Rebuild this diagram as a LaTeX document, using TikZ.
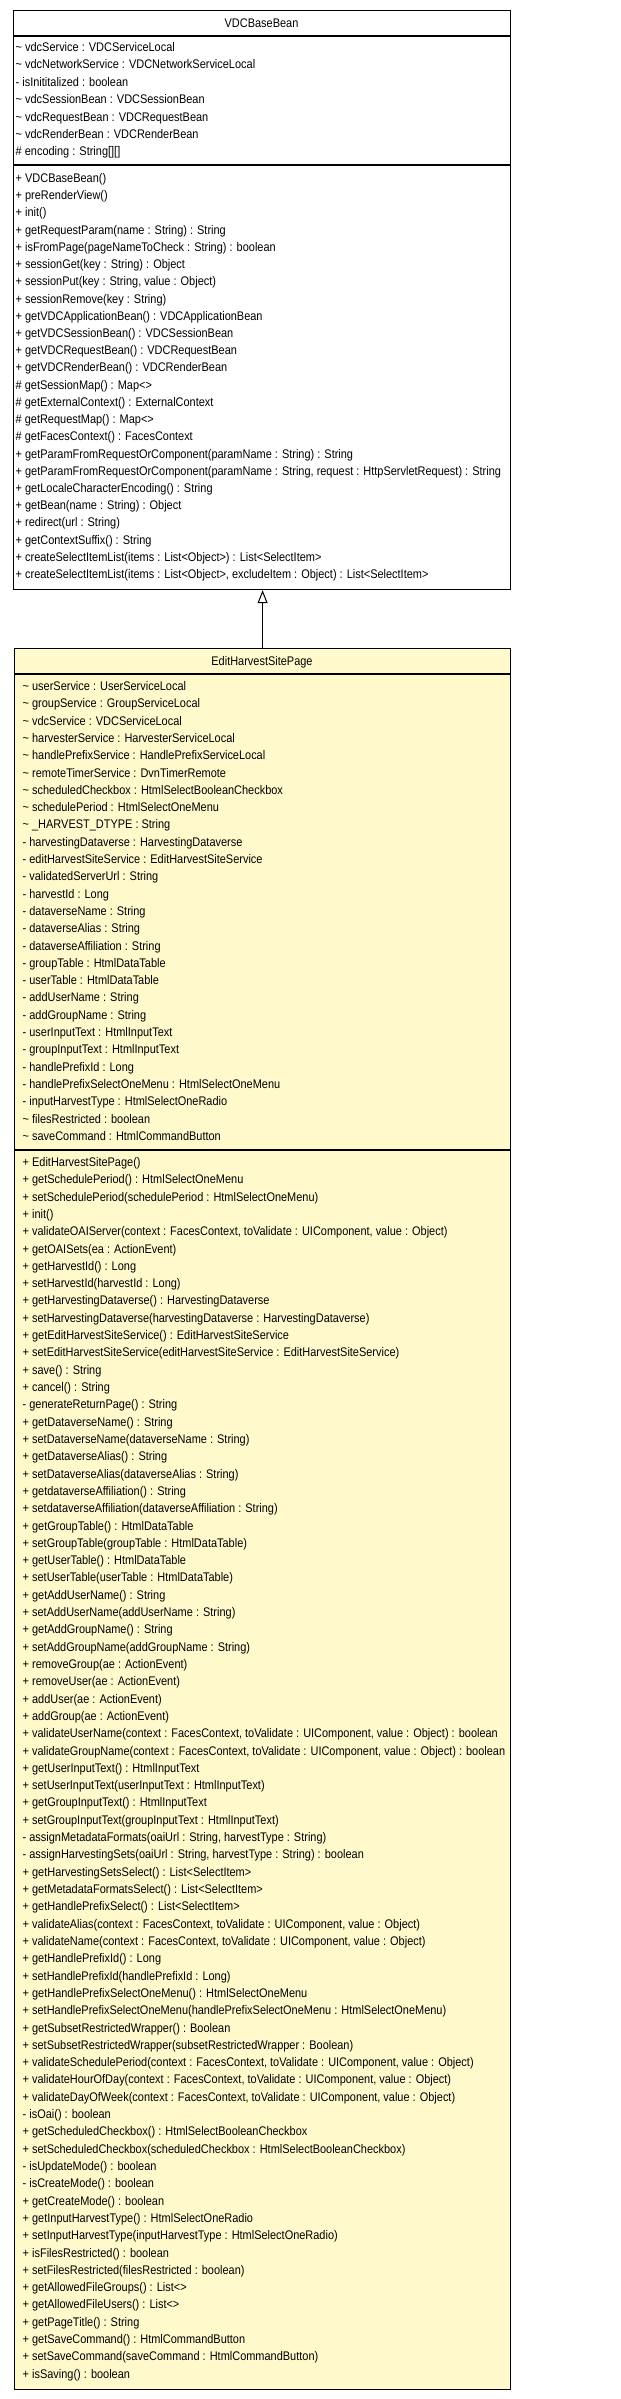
\documentclass[tikz,border=0pt]{standalone}
\usepackage{fontspec}
\setmainfont{Liberation Sans}[FakeStretch=0.877]
\usetikzlibrary{arrows.meta}
\definecolor{classfill}{RGB}{255,249,204}
\begin{document}
\begin{tikzpicture}[x=1pt,y=-1pt]
\tikzset{
  member/.style={anchor=base west, inner sep=0pt, font=\fontsize{12.5}{15}\selectfont},
  ctitle/.style={anchor=base, inner sep=0pt, font=\fontsize{12.5}{15}\selectfont},
  classbox/.style={draw=black, line width=1.2pt, anchor=north west, inner sep=0pt},
  divider/.style={line width=1.8pt},
  inherit/.style={line width=1pt, -{Triangle[open, width=10pt, length=13pt, line width=1pt]}}
}
\useasboundingbox (0,0) rectangle (621,2399);
\fill[white] (0,0) rectangle (621,2399);

% ---------- VDCBaseBean ----------
\node[classbox, fill=white, minimum width=497pt, minimum height=579pt] (base) at (13,10) {};
\node[ctitle] (basetitle) at (261.5,27.5) {VDCBaseBean};
\draw[divider] (13,36) -- (510,36);
\draw[divider] (13,165) -- (510,165);
\foreach \t [count=\i from 0] in {
 {\textasciitilde{} vdcService : VDCServiceLocal},
 {\textasciitilde{} vdcNetworkService : VDCNetworkServiceLocal},
 {- isInititalized : boolean},
 {\textasciitilde{} vdcSessionBean : VDCSessionBean},
 {\textasciitilde{} vdcRequestBean : VDCRequestBean},
 {\textasciitilde{} vdcRenderBean : VDCRenderBean},
 {\# encoding : String[][]}
}{\node[member] (ba\i) at (15.5,{51.5+\i*17.4}) {\t};}
\foreach \t [count=\i from 0] in {
 {+ VDCBaseBean()},
 {+ preRenderView()},
 {+ init()},
 {+ getRequestParam(name : String) : String},
 {+ isFromPage(pageNameToCheck : String) : boolean},
 {+ sessionGet(key : String) : Object},
 {+ sessionPut(key : String, value : Object)},
 {+ sessionRemove(key : String)},
 {+ getVDCApplicationBean() : VDCApplicationBean},
 {+ getVDCSessionBean() : VDCSessionBean},
 {+ getVDCRequestBean() : VDCRequestBean},
 {+ getVDCRenderBean() : VDCRenderBean},
 {\# getSessionMap() : Map<>},
 {\# getExternalContext() : ExternalContext},
 {\# getRequestMap() : Map<>},
 {\# getFacesContext() : FacesContext},
 {+ getParamFromRequestOrComponent(paramName : String) : String},
 {+ getParamFromRequestOrComponent(paramName : String, request : HttpServletRequest) : String},
 {+ getLocaleCharacterEncoding() : String},
 {+ getBean(name : String) : Object},
 {+ redirect(url : String)},
 {+ getContextSuffix() : String},
 {+ createSelectItemList(items : List<Object>) : List<SelectItem>},
 {+ createSelectItemList(items : List<Object>, excludeItem : Object) : List<SelectItem>}
}{\node[member] (bm\i) at (15.5,{182.5+\i*17.22}) {\t};}

% ---------- EditHarvestSitePage ----------
\node[classbox, fill=classfill, minimum width=496pt, minimum height=1741pt] (sub) at (14,648) {};
\node[ctitle] (subtitle) at (262,665.5) {EditHarvestSitePage};
\draw[divider] (14,674) -- (510,674);
\draw[divider] (14,1150) -- (510,1150);
\foreach \t [count=\i from 0] in {
 {\textasciitilde{} userService : UserServiceLocal},
 {\textasciitilde{} groupService : GroupServiceLocal},
 {\textasciitilde{} vdcService : VDCServiceLocal},
 {\textasciitilde{} harvesterService : HarvesterServiceLocal},
 {\textasciitilde{} handlePrefixService : HandlePrefixServiceLocal},
 {\textasciitilde{} remoteTimerService : DvnTimerRemote},
 {\textasciitilde{} scheduledCheckbox : HtmlSelectBooleanCheckbox},
 {\textasciitilde{} schedulePeriod : HtmlSelectOneMenu},
 {\textasciitilde{} \_HARVEST\_DTYPE : String},
 {- harvestingDataverse : HarvestingDataverse},
 {- editHarvestSiteService : EditHarvestSiteService},
 {- validatedServerUrl : String},
 {- harvestId : Long},
 {- dataverseName : String},
 {- dataverseAlias : String},
 {- dataverseAffiliation : String},
 {- groupTable : HtmlDataTable},
 {- userTable : HtmlDataTable},
 {- addUserName : String},
 {- addGroupName : String},
 {- userInputText : HtmlInputText},
 {- groupInputText : HtmlInputText},
 {- handlePrefixId : Long},
 {- handlePrefixSelectOneMenu : HtmlSelectOneMenu},
 {- inputHarvestType : HtmlSelectOneRadio},
 {\textasciitilde{} filesRestricted : boolean},
 {\textasciitilde{} saveCommand : HtmlCommandButton}
}{\node[member] (sa\i) at (22.5,{690.5+\i*17.3}) {\t};}
\foreach \t [count=\i from 0] in {
 {+ EditHarvestSitePage()},
 {+ getSchedulePeriod() : HtmlSelectOneMenu},
 {+ setSchedulePeriod(schedulePeriod : HtmlSelectOneMenu)},
 {+ init()},
 {+ validateOAIServer(context : FacesContext, toValidate : UIComponent, value : Object)},
 {+ getOAISets(ea : ActionEvent)},
 {+ getHarvestId() : Long},
 {+ setHarvestId(harvestId : Long)},
 {+ getHarvestingDataverse() : HarvestingDataverse},
 {+ setHarvestingDataverse(harvestingDataverse : HarvestingDataverse)},
 {+ getEditHarvestSiteService() : EditHarvestSiteService},
 {+ setEditHarvestSiteService(editHarvestSiteService : EditHarvestSiteService)},
 {+ save() : String},
 {+ cancel() : String},
 {- generateReturnPage() : String},
 {+ getDataverseName() : String},
 {+ setDataverseName(dataverseName : String)},
 {+ getDataverseAlias() : String},
 {+ setDataverseAlias(dataverseAlias : String)},
 {+ getdataverseAffiliation() : String},
 {+ setdataverseAffiliation(dataverseAffiliation : String)},
 {+ getGroupTable() : HtmlDataTable},
 {+ setGroupTable(groupTable : HtmlDataTable)},
 {+ getUserTable() : HtmlDataTable},
 {+ setUserTable(userTable : HtmlDataTable)},
 {+ getAddUserName() : String},
 {+ setAddUserName(addUserName : String)},
 {+ getAddGroupName() : String},
 {+ setAddGroupName(addGroupName : String)},
 {+ removeGroup(ae : ActionEvent)},
 {+ removeUser(ae : ActionEvent)},
 {+ addUser(ae : ActionEvent)},
 {+ addGroup(ae : ActionEvent)},
 {+ validateUserName(context : FacesContext, toValidate : UIComponent, value : Object) : boolean},
 {+ validateGroupName(context : FacesContext, toValidate : UIComponent, value : Object) : boolean},
 {+ getUserInputText() : HtmlInputText},
 {+ setUserInputText(userInputText : HtmlInputText)},
 {+ getGroupInputText() : HtmlInputText},
 {+ setGroupInputText(groupInputText : HtmlInputText)},
 {- assignMetadataFormats(oaiUrl : String, harvestType : String)},
 {- assignHarvestingSets(oaiUrl : String, harvestType : String) : boolean},
 {+ getHarvestingSetsSelect() : List<SelectItem>},
 {+ getMetadataFormatsSelect() : List<SelectItem>},
 {+ getHandlePrefixSelect() : List<SelectItem>},
 {+ validateAlias(context : FacesContext, toValidate : UIComponent, value : Object)},
 {+ validateName(context : FacesContext, toValidate : UIComponent, value : Object)},
 {+ getHandlePrefixId() : Long},
 {+ setHandlePrefixId(handlePrefixId : Long)},
 {+ getHandlePrefixSelectOneMenu() : HtmlSelectOneMenu},
 {+ setHandlePrefixSelectOneMenu(handlePrefixSelectOneMenu : HtmlSelectOneMenu)},
 {+ getSubsetRestrictedWrapper() : Boolean},
 {+ setSubsetRestrictedWrapper(subsetRestrictedWrapper : Boolean)},
 {+ validateSchedulePeriod(context : FacesContext, toValidate : UIComponent, value : Object)},
 {+ validateHourOfDay(context : FacesContext, toValidate : UIComponent, value : Object)},
 {+ validateDayOfWeek(context : FacesContext, toValidate : UIComponent, value : Object)},
 {- isOai() : boolean},
 {+ getScheduledCheckbox() : HtmlSelectBooleanCheckbox},
 {+ setScheduledCheckbox(scheduledCheckbox : HtmlSelectBooleanCheckbox)},
 {- isUpdateMode() : boolean},
 {- isCreateMode() : boolean},
 {+ getCreateMode() : boolean},
 {+ getInputHarvestType() : HtmlSelectOneRadio},
 {+ setInputHarvestType(inputHarvestType : HtmlSelectOneRadio)},
 {+ isFilesRestricted() : boolean},
 {+ setFilesRestricted(filesRestricted : boolean)},
 {+ getAllowedFileGroups() : List<>},
 {+ getAllowedFileUsers() : List<>},
 {+ getPageTitle() : String},
 {+ getSaveCommand() : HtmlCommandButton},
 {+ setSaveCommand(saveCommand : HtmlCommandButton)},
 {+ isSaving() : boolean}
}{\node[member] (sm\i) at (22.5,{1166.5+\i*17.31}) {\t};}

% ---------- generalization ----------
\draw[inherit] (sub.north) -- (sub.north |- base.south);
\end{tikzpicture}
\end{document}
